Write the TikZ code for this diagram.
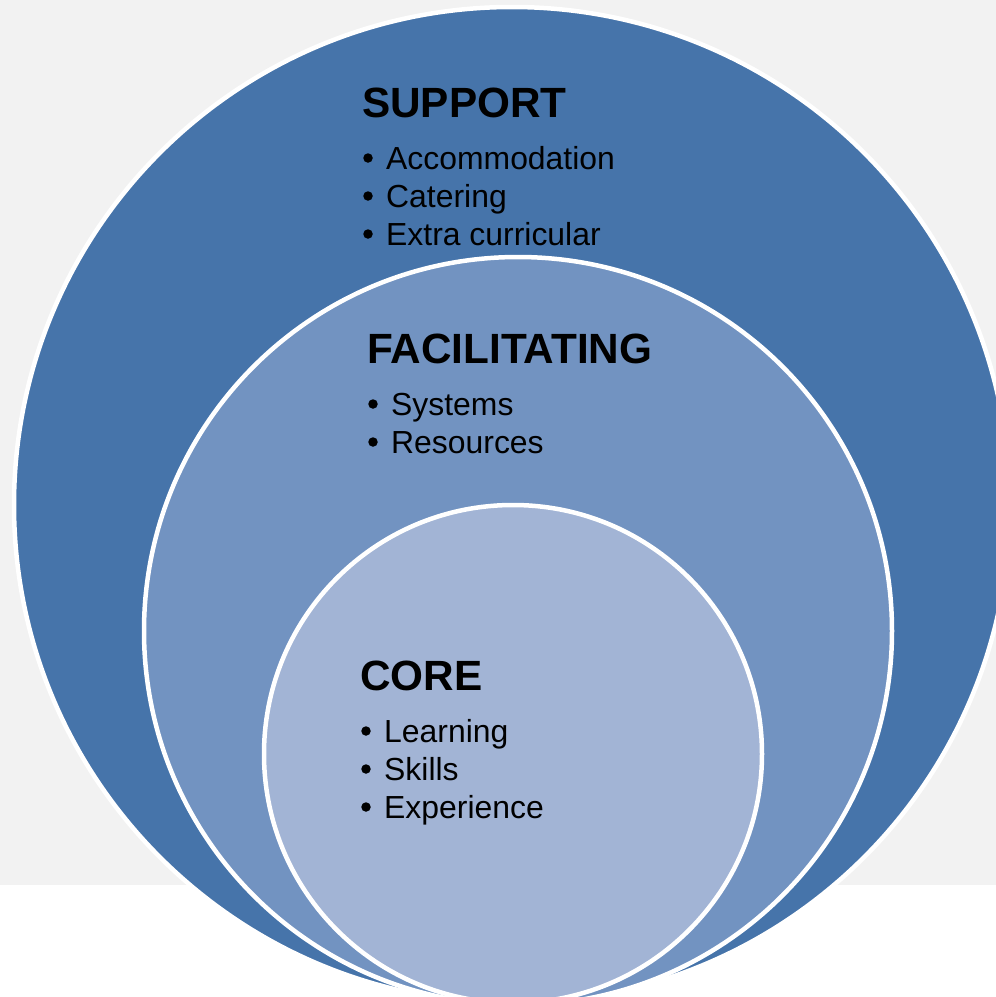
\documentclass[tikz,border=0pt]{standalone}
\usepackage{fontspec}
\setmainfont{Liberation Sans}
\definecolor{pagegray}{HTML}{F2F2F2}
\definecolor{ringouter}{HTML}{4674AA}
\definecolor{ringmiddle}{HTML}{7293C1}
\definecolor{ringinner}{HTML}{A2B4D5}
\tikzset{
  ring/.style={draw=white, line width=4.5pt},
  heading/.style={anchor=base west, inner sep=0pt, font=\fontsize{42.3}{46}\selectfont\bfseries},
  item/.style={anchor=base west, inner sep=0pt, font=\fontsize{31.9}{38}\selectfont},
  dot/.style={circle, fill=black, inner sep=0pt, minimum size=9.5pt}
}
\begin{document}
\begin{tikzpicture}[x=1pt,y=-1pt]
  \useasboundingbox (0,0) rectangle (996,997);
  \clip (0,0) rectangle (996,997);
  % page background: grey band above, white strip below
  \fill[white] (0,0) rectangle (996,997);
  \fill[pagegray] (0,0) rectangle (996,885);

  % nested rings
  \path[ring, fill=ringouter] (512,505) circle[radius=498];
  \path[ring, fill=ringmiddle] (518,631) circle[radius=374];
  \path[ring, fill=ringinner] (513,754) circle[radius=249];

  % SUPPORT
  \node[heading] (support) at (362,117) {SUPPORT};
  \node[dot] (s1b) at (368,158) {};
  \node[item] (s1) at (386,169) {Accommodation};
  \node[dot] (s2b) at (368,196) {};
  \node[item] (s2) at (386,207) {Catering};
  \node[dot] (s3b) at (368,234) {};
  \node[item] (s3) at (386,245) {Extra curricular};

  % FACILITATING
  \node[heading] (facil) at (367,363) {FACILITATING};
  \node[dot] (f1b) at (373,404) {};
  \node[item] (f1) at (391,415) {Systems};
  \node[dot] (f2b) at (373,442) {};
  \node[item] (f2) at (391,453) {Resources};

  % CORE
  \node[heading] (core) at (360,690) {CORE};
  \node[dot] (c1b) at (366,731) {};
  \node[item] (c1) at (384,742) {Learning};
  \node[dot] (c2b) at (366,769) {};
  \node[item] (c2) at (384,780) {Skills};
  \node[dot] (c3b) at (366,807) {};
  \node[item] (c3) at (384,818) {Experience};
\end{tikzpicture}
\end{document}
